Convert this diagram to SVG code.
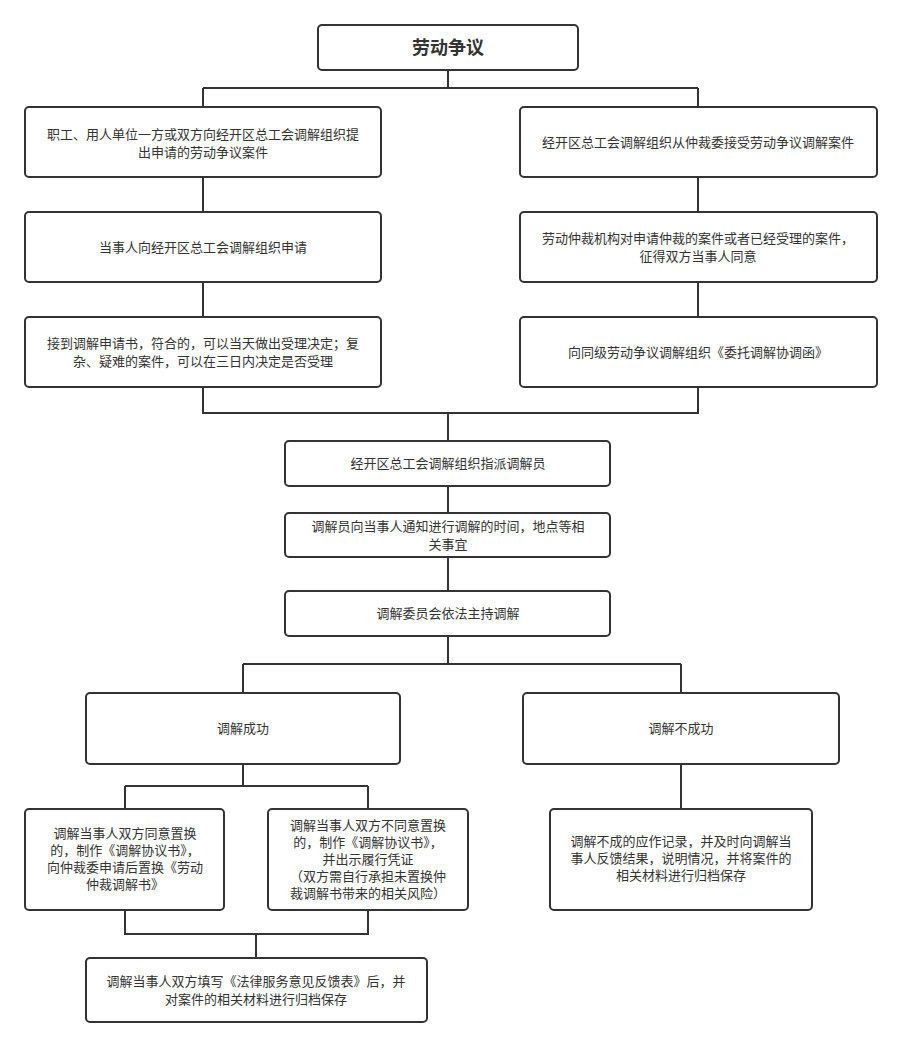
<svg xmlns="http://www.w3.org/2000/svg" width="902" height="1048" viewBox="0 0 902 1048">
<style>
rect{fill:#fff;stroke:#333;stroke-width:2}
text{font-family:"Noto Sans CJK SC",sans-serif;font-size:13px;fill:#333;text-anchor:middle}
.t{font-size:18px;font-weight:bold}
#connectors path{fill:none;stroke:#333;stroke-width:2}
</style>
<rect x="0" y="0" width="902" height="1048" style="stroke:none"/>
<g id="connectors">
<path d="M448 70V88M203 88H698M203 88V107M698 88V107"/>
<path d="M203 177V212M203 282V317M698 177V212M698 282V317"/>
<path d="M203 387V413H698V387M448 413V441M448 486V513M448 557V591M448 636V664"/>
<path d="M243 664H681M243 664V693M681 664V693"/>
<path d="M243 764V786M125 786H368M125 786V809M368 786V809M681 764V809"/>
<path d="M125 910V934H368V910M256 934V958"/>
</g>
<g id="n0"><rect x="318" y="25" width="260" height="45" rx="4"/><text class="t" x="448" y="54">劳动争议</text></g>
<g id="n1"><rect x="25" y="107" width="356" height="70" rx="4"/><text x="203" y="139">职工、用人单位一方或双方向经开区总工会调解组织提</text><text x="203" y="157">出申请的劳动争议案件</text></g>
<g id="n2"><rect x="25" y="212" width="356" height="70" rx="4"/><text x="203" y="252">当事人向经开区总工会调解组织申请</text></g>
<g id="n3"><rect x="25" y="317" width="356" height="70" rx="4"/><text x="203" y="348">接到调解申请书，符合的，可以当天做出受理决定；复</text><text x="203" y="366">杂、疑难的案件，可以在三日内决定是否受理</text></g>
<g id="n4"><rect x="520" y="107" width="357" height="70" rx="4"/><text x="698" y="147">经开区总工会调解组织从仲裁委接受劳动争议调解案件</text></g>
<g id="n5"><rect x="520" y="212" width="357" height="70" rx="4"/><text x="698" y="243">劳动仲裁机构对申请仲裁的案件或者已经受理的案件，</text><text x="698" y="261">征得双方当事人同意</text></g>
<g id="n6"><rect x="520" y="317" width="357" height="70" rx="4"/><text x="698" y="357">向同级劳动争议调解组织《委托调解协调函》</text></g>
<g id="n7"><rect x="285" y="441" width="325" height="45" rx="4"/><text x="448" y="468">经开区总工会调解组织指派调解员</text></g>
<g id="n8"><rect x="285" y="513" width="325" height="44" rx="4"/><text x="448" y="531">调解员向当事人通知进行调解的时间，地点等相</text><text x="448" y="549">关事宜</text></g>
<g id="n9"><rect x="285" y="591" width="325" height="45" rx="4"/><text x="448" y="618">调解委员会依法主持调解</text></g>
<g id="n10"><rect x="86" y="693" width="314" height="71" rx="4"/><text x="243" y="733">调解成功</text></g>
<g id="n11"><rect x="523" y="693" width="316" height="71" rx="4"/><text x="681" y="733">调解不成功</text></g>
<g id="n12"><rect x="25" y="809" width="199" height="101" rx="4"/><text x="125" y="838">调解当事人双方同意置换</text><text x="125" y="855">的，制作《调解协议书》，</text><text x="125" y="872">向仲裁委申请后置换《劳动</text><text x="125" y="889">仲裁调解书》</text></g>
<g id="n13"><rect x="268" y="809" width="200" height="101" rx="4"/><text x="368" y="830">调解当事人双方不同意置换</text><text x="368" y="847">的，制作《调解协议书》，</text><text x="368" y="864">并出示履行凭证</text><text x="368" y="881">（双方需自行承担未置换仲</text><text x="368" y="898">裁调解书带来的相关风险）</text></g>
<g id="n14"><rect x="550" y="809" width="262" height="101" rx="4"/><text x="681" y="846">调解不成的应作记录，并及时向调解当</text><text x="681" y="863">事人反馈结果，说明情况，并将案件的</text><text x="681" y="880">相关材料进行归档保存</text></g>
<g id="n15"><rect x="86" y="958" width="341" height="64" rx="4"/><text x="256" y="986">调解当事人双方填写《法律服务意见反馈表》后，并</text><text x="256" y="1004">对案件的相关材料进行归档保存</text></g>
</svg>
